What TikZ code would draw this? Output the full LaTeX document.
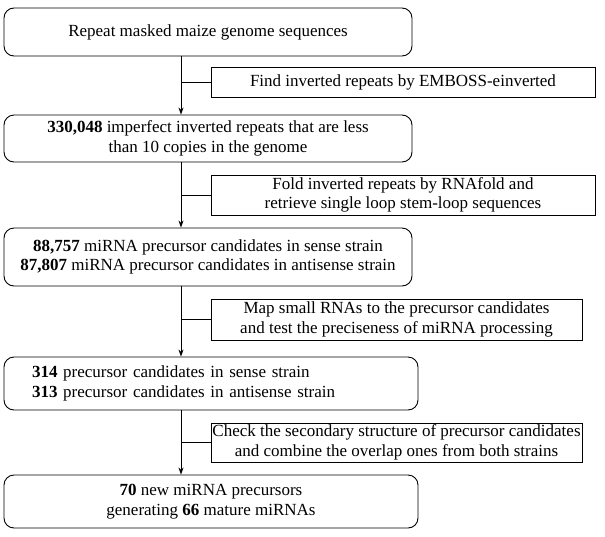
\documentclass[tikz,border=0pt]{standalone}
\usepackage{fontspec}
\setmainfont{Liberation Serif}
\usetikzlibrary{arrows.meta}
\tikzset{
    stepbox/.style={draw, rounded corners=10pt, line width=0.9pt, align=center,
        minimum width=408pt, inner sep=0pt},
    sidebox/.style={draw, line width=0.9pt, align=center, inner sep=0pt},
    link/.style={line width=0.8pt},
    flow/.style={link, -{Stealth[length=7pt,width=5pt]}}
}
\newcommand{\num}[1]{\textbf{#1}}

\begin{document}
\begin{tikzpicture}[x=1pt, y=-1pt, font=\fontsize{17}{19.5}\selectfont]
        \useasboundingbox (0,0) rectangle (605,536);
        \coordinate (spine) at (181,0);
        \node[stepbox, minimum height=48pt] (genome) at (208,32) {Repeat masked maize genome sequences};
        \node[sidebox, minimum width=384pt, minimum height=30pt] (einverted) at (403,82) {Find inverted repeats by EMBOSS-einverted};
        \node[stepbox, minimum height=47pt] (repeats) at (208,138.5) {\num{330,048} imperfect inverted repeats that are less\\than 10 copies in the genome};
        \node[sidebox, minimum width=384pt, minimum height=40pt] (rnafold) at (403,195) {Fold inverted repeats by RNAfold and\\retrieve single loop stem-loop sequences};
        \node[stepbox, minimum height=58pt] (candidates) at (208,257) {\num{88,757} miRNA precursor candidates in sense strain\\\num{87,807} miRNA precursor candidates in antisense strain};
        \node[sidebox, minimum width=371pt, minimum height=41pt] (mapping) at (396.5,319.5) {Map small RNAs to the precursor candidates\\and test the preciseness of miRNA processing};
        \node[stepbox, minimum width=414pt, minimum height=53pt, text width=358pt, inner xsep=28pt, align=left] (processed) at (211,383.5) {\num{314} precursor candidates in sense strain\\\num{313} precursor candidates in antisense strain};
        \node[sidebox, minimum width=371pt, minimum height=39pt] (structure) at (396.5,442.5) {Check the secondary structure of precursor candidates\\and combine the overlap ones from both strains};
        \node[stepbox, minimum width=414pt, minimum height=53pt] (novel) at (211,501.5) {\num{70} new miRNA precursors\\generating \num{66} mature miRNAs};
        \draw[flow] (genome.south -| spine) -- (repeats.north -| spine);
        \draw[flow] (repeats.south -| spine) -- (candidates.north -| spine);
        \draw[flow] (candidates.south -| spine) -- (processed.north -| spine);
        \draw[flow] (processed.south -| spine) -- (novel.north -| spine);
        \draw[link] (einverted.west) -- (einverted.west -| spine);
        \draw[link] (rnafold.west) -- (rnafold.west -| spine);
        \draw[link] (mapping.west) -- (mapping.west -| spine);
        \draw[link] (structure.west) -- (structure.west -| spine);
    \end{tikzpicture}
\end{document}
